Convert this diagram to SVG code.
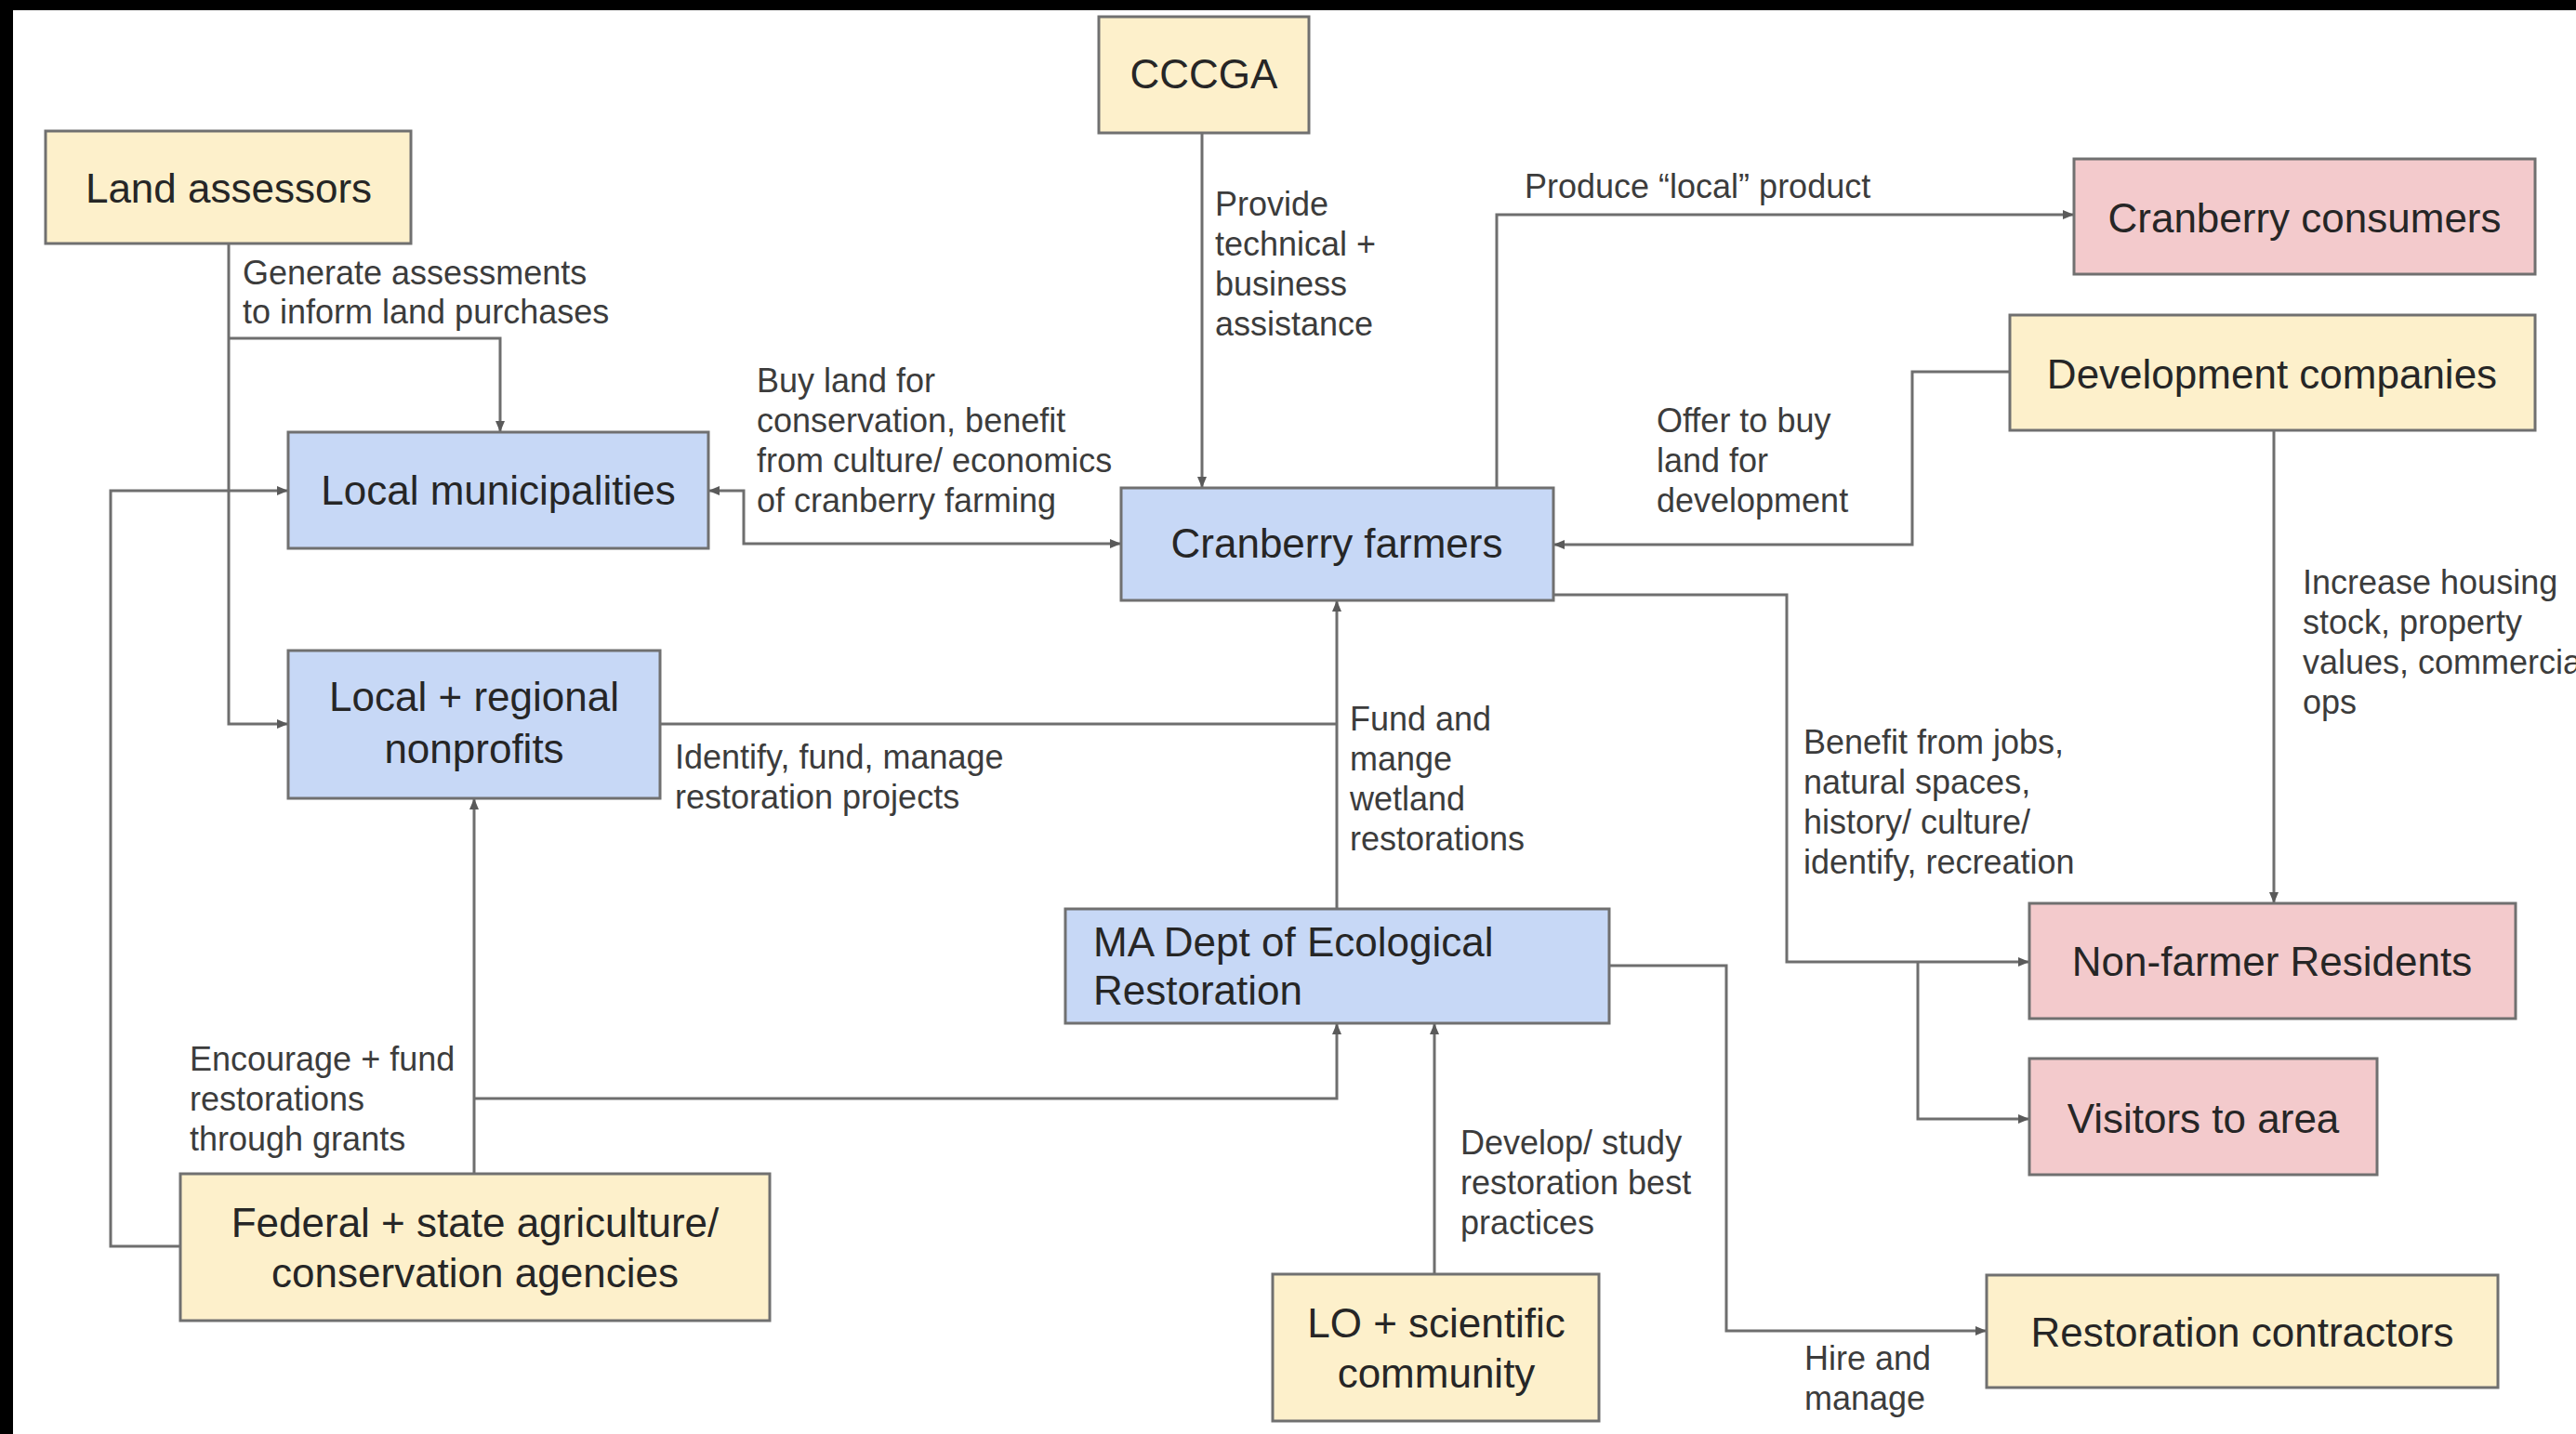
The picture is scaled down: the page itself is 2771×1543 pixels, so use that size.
<svg xmlns="http://www.w3.org/2000/svg" width="2771" height="1543" viewBox="0 0 2771 1543">
  <style>
    .box { stroke: #707070; stroke-width: 3; }
    .yellow { fill: #fdf0cb; }
    .pink { fill: #f3cacc; }
    .blue { fill: #c7d8f6; }
    .node-text { font-family: "Liberation Sans", Arial, sans-serif; font-size: 44px; fill: #262626; }
    .mid { text-anchor: middle; }
    .edge { fill: none; stroke: #6e6e6e; stroke-width: 3; }
    .label { font-family: "Liberation Sans", Arial, sans-serif; font-size: 36px; fill: #3c3c3c; }
  </style>
  <defs>
    <marker id="arrow" viewBox="0 0 12 10" refX="12" refY="5" markerWidth="12" markerHeight="10" markerUnits="userSpaceOnUse" orient="auto-start-reverse">
      <path d="M0,0 L12,5 L0,10 z" fill="#5a5a5a"/>
    </marker>
  </defs>

  <!-- page -->
  <rect x="0" y="0" width="2771" height="1543" fill="#ffffff"/>
  <rect x="0" y="0" width="2771" height="11" fill="#000000"/>
  <rect x="0" y="0" width="14" height="1543" fill="#000000"/>

  <!-- connectors -->
  <g id="connectors">
    <path class="edge" d="M246,262 V779 H310" marker-end="url(#arrow)"/>
    <path class="edge" d="M246,364 H538 V465" marker-end="url(#arrow)"/>
    <path class="edge" d="M194,1341 H119 V528 H310" marker-end="url(#arrow)"/>
    <path class="edge" d="M510,1263 V859" marker-end="url(#arrow)"/>
    <path class="edge" d="M510,1182 H1438 V1101" marker-end="url(#arrow)"/>
    <path class="edge" d="M710,779 H1438"/>
    <path class="edge" d="M1438,978 V646" marker-end="url(#arrow)"/>
    <path class="edge" d="M1293,143 V525" marker-end="url(#arrow)"/>
    <path class="edge" d="M762,528 H800 V585 H1206" marker-start="url(#arrow)" marker-end="url(#arrow)"/>
    <path class="edge" d="M1610,525 V231 H2231" marker-end="url(#arrow)"/>
    <path class="edge" d="M2162,400 H2057 V586 H1671" marker-end="url(#arrow)"/>
    <path class="edge" d="M2446,463 V972" marker-end="url(#arrow)"/>
    <path class="edge" d="M1671,640 H1922 V1035 H2183" marker-end="url(#arrow)"/>
    <path class="edge" d="M2063,1035 V1204 H2183" marker-end="url(#arrow)"/>
    <path class="edge" d="M1731,1039 H1857 V1432 H2137" marker-end="url(#arrow)"/>
    <path class="edge" d="M1543,1371 V1101" marker-end="url(#arrow)"/>

    <!-- connector labels -->
    <text class="label" x="261" y="306">Generate assessments</text>
    <text class="label" x="261" y="348">to inform land purchases</text>

    <text class="label" x="814" y="422">Buy land for</text>
    <text class="label" x="814" y="465">conservation, benefit</text>
    <text class="label" x="814" y="508">from culture/ economics</text>
    <text class="label" x="814" y="551">of cranberry farming</text>

    <text class="label" x="1307" y="232">Provide</text>
    <text class="label" x="1307" y="275">technical +</text>
    <text class="label" x="1307" y="318">business</text>
    <text class="label" x="1307" y="361">assistance</text>

    <text class="label" x="1640" y="213">Produce “local” product</text>

    <text class="label" x="1782" y="465">Offer to buy</text>
    <text class="label" x="1782" y="508">land for</text>
    <text class="label" x="1782" y="551">development</text>

    <text class="label" x="2477" y="639">Increase housing</text>
    <text class="label" x="2477" y="682">stock, property</text>
    <text class="label" x="2477" y="725">values, commercia</text>
    <text class="label" x="2477" y="768">ops</text>

    <text class="label" x="726" y="827">Identify, fund, manage</text>
    <text class="label" x="726" y="870">restoration projects</text>

    <text class="label" x="1452" y="786">Fund and</text>
    <text class="label" x="1452" y="829">mange</text>
    <text class="label" x="1452" y="872">wetland</text>
    <text class="label" x="1452" y="915">restorations</text>

    <text class="label" x="1940" y="811">Benefit from jobs,</text>
    <text class="label" x="1940" y="854">natural spaces,</text>
    <text class="label" x="1940" y="897">history/ culture/</text>
    <text class="label" x="1940" y="940">identify, recreation</text>

    <text class="label" x="204" y="1152">Encourage + fund</text>
    <text class="label" x="204" y="1195">restorations</text>
    <text class="label" x="204" y="1238">through grants</text>

    <text class="label" x="1571" y="1242">Develop/ study</text>
    <text class="label" x="1571" y="1285">restoration best</text>
    <text class="label" x="1571" y="1328">practices</text>

    <text class="label" x="1941" y="1474">Hire and</text>
    <text class="label" x="1941" y="1517">manage</text>
  </g>

  <!-- nodes -->
  <g id="land-assessors">
    <rect class="box yellow" x="49" y="141" width="393" height="121"/>
    <text class="node-text mid" x="246" y="218">Land assessors</text>
  </g>
  <g id="cccga">
    <rect class="box yellow" x="1182" y="18" width="226" height="125"/>
    <text class="node-text mid" x="1295" y="95">CCCGA</text>
  </g>
  <g id="cranberry-consumers">
    <rect class="box pink" x="2231" y="171" width="496" height="124"/>
    <text class="node-text mid" x="2479" y="250">Cranberry consumers</text>
  </g>
  <g id="development-companies">
    <rect class="box yellow" x="2162" y="339" width="565" height="124"/>
    <text class="node-text mid" x="2444" y="418">Development companies</text>
  </g>
  <g id="local-municipalities">
    <rect class="box blue" x="310" y="465" width="452" height="125"/>
    <text class="node-text mid" x="536" y="543">Local municipalities</text>
  </g>
  <g id="cranberry-farmers">
    <rect class="box blue" x="1206" y="525" width="465" height="121"/>
    <text class="node-text mid" x="1438" y="600">Cranberry farmers</text>
  </g>
  <g id="nonprofits">
    <rect class="box blue" x="310" y="700" width="400" height="159"/>
    <text class="node-text mid" x="510" y="765">Local + regional</text>
    <text class="node-text mid" x="510" y="821">nonprofits</text>
  </g>
  <g id="ma-dept">
    <rect class="box blue" x="1146" y="978" width="585" height="123"/>
    <text class="node-text" x="1176" y="1029">MA Dept of Ecological</text>
    <text class="node-text" x="1176" y="1081">Restoration</text>
  </g>
  <g id="federal-state-agencies">
    <rect class="box yellow" x="194" y="1263" width="634" height="158"/>
    <text class="node-text mid" x="511" y="1331">Federal + state agriculture/</text>
    <text class="node-text mid" x="511" y="1385">conservation agencies</text>
  </g>
  <g id="lo-scientific">
    <rect class="box yellow" x="1369" y="1371" width="351" height="158"/>
    <text class="node-text mid" x="1545" y="1439">LO + scientific</text>
    <text class="node-text mid" x="1545" y="1493">community</text>
  </g>
  <g id="non-farmer-residents">
    <rect class="box pink" x="2183" y="972" width="523" height="124"/>
    <text class="node-text mid" x="2444" y="1050">Non-farmer Residents</text>
  </g>
  <g id="visitors">
    <rect class="box pink" x="2183" y="1139" width="374" height="125"/>
    <text class="node-text mid" x="2370" y="1219">Visitors to area</text>
  </g>
  <g id="restoration-contractors">
    <rect class="box yellow" x="2137" y="1372" width="550" height="121"/>
    <text class="node-text mid" x="2412" y="1449">Restoration contractors</text>
  </g>
</svg>
